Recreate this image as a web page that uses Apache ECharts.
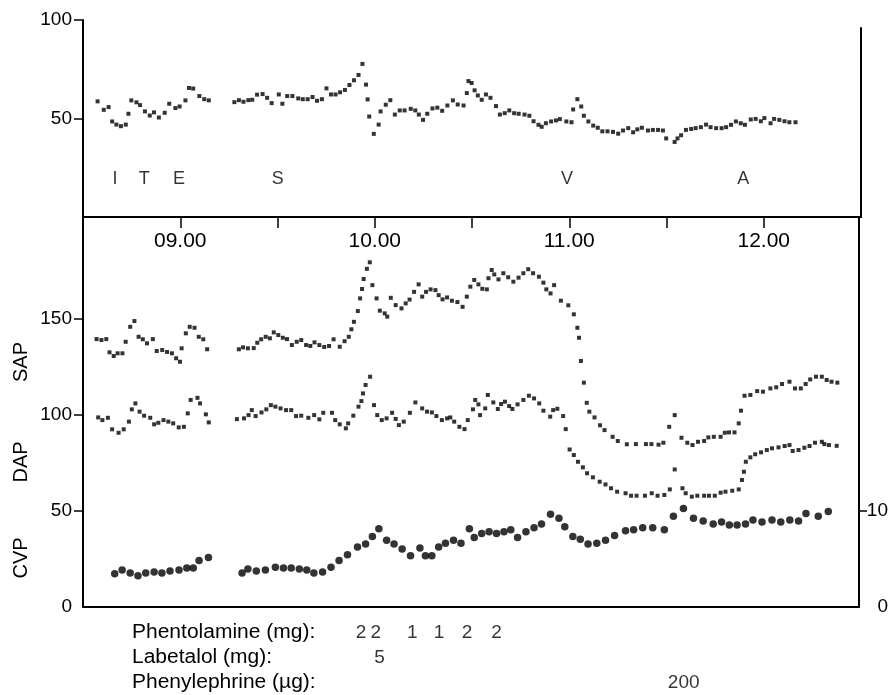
<!DOCTYPE html>
<html>
<head>
<meta charset="utf-8">
<script src="https://cdn.jsdelivr.net/npm/echarts@6/dist/echarts.min.js"></script>
<style>html,body{margin:0;padding:0;background:#fff}#c{width:891px;height:695px}</style>
</head>
<body>
<div id="c"></div>
<script>
// time in minutes after 08:30
const tickMinutes = [30, 60, 90, 120, 150, 180, 210];
const labelMinutes = [30, 90, 150, 210];
const hourLabels = ['09.00', '10.00', '11.00', '12.00'];

// upper panel (unlabelled trace, 0-100)
const hrData = [[4.5,58.7],[6.4,54.4],[7.9,55.8],[9.0,48.5],[10.3,46.9],[11.7,46.1],[13.2,46.9],[14.0,52.4],[14.9,59.2],[16.5,58.2],[17.6,56.8],[19.1,53.6],[20.6,51.5],[21.9,53.1],[23.4,50.5],[25.2,52.9],[26.6,57.5],[28.5,55.3],[29.8,56.1],[31.6,59.2],[32.7,65.5],[34.0,65.2],[35.9,61.4],[37.4,59.8],[38.8,59.2],
[46.7,58.3],[48.1,59.3],[49.5,58.5],[51.0,59.3],[52.2,59.5],[53.7,62.1],[55.4,62.4],[56.8,60.5],[58.2,57.8],[60.4,62.2],[61.5,57.5],[63.0,61.4],[64.6,61.4],[66.4,60.2],[67.8,59.8],[69.3,59.8],[70.8,60.9],[72.2,59.0],[73.7,59.8],[75.1,65.3],[76.5,62.2],[77.9,62.2],[79.3,63.3],[80.8,64.5],[82.2,67.0],[83.6,69.4],[85.0,72.1],[86.2,77.7],[87.3,67.2],[87.8,59.7],[88.3,51.0],[89.7,42.2],[91.2,46.9],[91.8,53.6],[93.4,57.0],[94.8,59.3],[96.2,52.0],[97.7,54.1],[99.2,54.1],[101.1,54.9],[102.5,54.1],[103.6,52.0],[104.9,49.3],[106.2,52.4],[107.8,55.1],[109.3,55.5],[110.8,53.9],[112.4,56.6],[114.1,59.2],[115.6,57.1],[117.4,56.6],[118.4,62.9],[118.9,69.0],[119.9,68.0],[120.8,64.3],[121.8,61.7],[123.0,59.5],[124.3,62.2],[125.7,60.5],[127.4,56.3],[128.6,52.0],[130.1,52.7],[131.5,54.1],[133.0,52.7],[134.4,52.4],[136.2,52.0],[137.7,51.4],[139.0,48.6],[140.5,46.8],[141.5,45.8],[142.8,47.6],[144.4,48.5],[145.9,49.0],[147.1,49.7],[149.1,48.5],[150.7,48.1],[151.2,54.6],[152.5,59.8],[153.7,56.1],[154.5,51.4],[155.9,48.5],[157.4,46.4],[158.8,45.3],[160.2,43.5],[161.8,43.5],[163.5,43.2],[165.1,42.3],[166.6,43.9],[168.2,45.1],[169.7,43.0],[171.0,44.5],[172.4,45.3],[174.3,43.9],[175.8,44.2],[177.4,44.2],[178.9,43.9],[179.9,39.9],[182.5,38.1],[183.4,39.9],[184.5,41.5],[186.0,44.2],[187.6,44.7],[189.0,45.1],[190.6,45.6],[192.2,46.9],[193.6,45.6],[195.3,45.1],[197.0,45.1],[198.4,45.6],[199.9,46.8],[201.4,48.5],[202.9,47.6],[204.2,46.8],[206.0,49.5],[207.5,49.8],[209.1,48.6],[210.2,50.2],[212.1,47.6],[213.2,49.8],[214.8,49.3],[216.4,48.6],[217.9,48.1],[219.8,48.1]];

const eventNames = ['I', 'T', 'E', 'S', 'V', 'A'];
const eventTimes = [9.9, 18.9, 29.6, 60.1, 149.3, 203.7];
const eventLevel = 19.4;

// lower panel: SAP, DAP (mmHg, left axis), CVP (mmHg, right axis)
const sapData = [[4.2,139.3],[5.7,138.8],[7.2,139.3],[8.2,132.4],[9.5,130.5],[10.7,131.9],[12.2,131.9],[13.2,137.9],[14.6,145.7],[15.9,148.7],[17.2,140.5],[18.5,139.2],[19.8,137.1],[21.6,139.3],[22.8,133.1],[24.5,133.6],[26.0,132.6],[27.5,131.9],[28.8,129.3],[30.0,127.5],[30.5,134.5],[31.8,142.3],[33.0,145.7],[34.5,145.2],[35.8,140.5],[37.2,139.2],[38.4,134.0],
[48.2,134.0],[49.5,135.0],[51.0,134.5],[52.8,134.6],[53.9,137.4],[55.1,139.2],[56.5,140.5],[57.8,139.7],[59.0,142.8],[60.4,141.4],[61.8,140.0],[63.1,139.3],[64.6,136.2],[66.1,137.9],[67.5,138.8],[69.0,136.2],[70.3,135.7],[71.6,137.6],[73.1,136.2],[74.6,135.2],[76.1,135.7],[77.5,139.2],[79.4,135.3],[80.9,138.2],[82.2,140.5],[83.0,144.4],[83.8,148.3],[85.0,153.9],[85.7,160.5],[86.3,165.4],[86.8,170.6],[87.8,175.9],[88.7,179.3],[89.5,167.4],[90.8,160.5],[91.8,154.1],[93.3,152.7],[94.1,151.0],[95.2,160.8],[96.7,157.0],[98.5,155.3],[99.8,157.9],[101.0,159.9],[102.4,163.9],[103.8,167.8],[104.9,161.4],[106.1,163.9],[107.5,165.2],[109.0,164.8],[110.0,162.2],[111.2,160.0],[112.6,161.0],[114.1,159.3],[115.8,158.6],[117.4,156.1],[118.7,161.4],[119.8,166.6],[121.0,170.1],[122.3,167.8],[123.5,165.5],[124.9,165.2],[125.4,171.0],[126.4,175.3],[127.2,173.0],[128.5,170.4],[130.0,173.6],[131.5,171.5],[133.1,169.2],[134.7,171.3],[136.2,173.6],[137.7,175.7],[139.2,173.6],[141.0,171.8],[142.4,168.7],[143.3,165.2],[144.6,163.1],[145.7,167.4],[147.8,159.3],[150.1,156.9],[151.8,152.2],[152.9,145.2],[153.4,140.0],[154.0,127.9],[154.9,116.6],[155.8,106.1],[156.6,101.5],[158.2,98.5],[159.9,94.4],[161.3,91.9],[163.8,88.4],[165.4,86.2],[168.2,84.5],[171.0,84.6],[174.1,84.6],[175.8,84.6],[178.0,84.3],[179.5,85.3],[181.3,93.6],[183.0,99.7],[185.1,87.9],[186.9,85.3],[188.5,84.1],[190.2,85.8],[192.1,86.2],[193.4,88.1],[195.1,88.4],[197.2,88.4],[198.5,90.5],[199.8,90.7],[201.5,90.7],[202.8,95.4],[203.5,102.0],[204.6,109.8],[206.4,110.2],[208.5,112.2],[210.3,111.9],[212.6,113.6],[214.4,114.2],[216.2,115.9],[218.5,117.1],[220.2,113.6],[222.0,113.6],[223.5,115.9],[224.9,118.3],[226.7,119.7],[228.5,119.7],[230.0,118.0],[231.5,117.1],[233.3,116.6]];

const dapData = [[4.7,98.5],[6.0,97.1],[7.7,98.3],[9.0,92.3],[11.0,90.5],[12.6,92.3],[14.2,96.3],[15.1,102.7],[16.2,105.8],[17.5,101.5],[18.9,99.4],[20.8,98.3],[22.0,94.9],[23.3,95.7],[24.9,97.1],[26.4,96.3],[27.9,95.4],[29.6,93.3],[31.2,93.6],[32.4,100.6],[33.3,107.6],[35.4,108.7],[36.2,105.8],[38.0,100.1],[38.9,95.9],
[47.6,97.6],[49.8,98.0],[51.2,99.7],[52.2,102.3],[53.4,99.2],[55.2,101.1],[56.7,102.7],[58.1,104.9],[59.5,104.1],[61.1,103.2],[62.8,102.3],[64.4,102.3],[65.9,99.2],[67.5,99.4],[69.7,98.3],[71.5,99.7],[73.1,97.5],[74.3,100.9],[77.0,100.9],[78.0,97.1],[79.4,94.9],[81.3,92.8],[82.0,95.4],[83.6,99.4],[85.2,104.1],[86.1,107.0],[86.6,111.0],[87.4,115.4],[88.8,119.7],[90.0,104.9],[91.0,99.7],[92.4,97.1],[93.9,98.0],[95.6,100.9],[96.7,97.7],[97.7,94.5],[99.2,96.3],[101.1,100.9],[102.8,106.3],[104.9,103.2],[106.4,101.5],[107.9,101.1],[109.3,99.2],[111.0,97.1],[112.6,98.0],[113.6,98.5],[114.8,96.3],[116.4,93.6],[118.0,92.4],[119.0,97.1],[120.6,102.7],[121.3,107.6],[122.3,105.3],[122.8,99.7],[124.4,103.2],[125.2,110.2],[126.9,106.3],[128.3,102.9],[129.3,105.5],[130.5,106.7],[131.8,104.4],[132.8,102.9],[134.4,105.3],[136.2,107.6],[137.9,109.8],[139.5,108.4],[141.1,105.8],[142.4,102.0],[144.5,98.9],[145.4,102.3],[146.7,103.0],[148.5,99.2],[149.3,92.4],[150.5,81.8],[151.8,78.9],[153.1,75.4],[154.6,72.5],[155.9,69.4],[157.7,67.3],[159.8,65.0],[161.6,63.6],[163.3,61.6],[165.2,59.8],[167.8,59.0],[169.5,57.7],[171.2,57.7],[173.8,57.7],[175.9,59.0],[177.7,57.7],[179.8,58.1],[181.5,61.0],[183.0,71.4],[185.4,61.6],[186.4,59.0],[188.3,57.2],[190.0,57.7],[192.1,57.7],[193.6,57.7],[195.4,57.7],[197.2,59.3],[198.7,59.8],[200.8,60.3],[202.8,61.0],[203.8,65.9],[204.4,70.2],[205.0,75.4],[206.4,77.7],[207.9,79.3],[209.7,80.3],[211.5,81.5],[213.1,82.4],[215.1,82.9],[217.0,83.6],[218.5,84.1],[219.5,81.0],[221.3,81.5],[223.1,82.7],[224.7,83.6],[226.4,85.3],[228.5,85.8],[229.3,84.6],[230.7,84.1],[233.1,83.7]];

const cvpData = [[9.8,3.4],[12.1,3.8],[14.6,3.5],[17.0,3.2],[19.4,3.5],[22.0,3.6],[24.4,3.5],[26.9,3.7],[29.7,3.8],[32.1,4.0],[34.1,4.0],[35.9,4.8],[38.8,5.1],
[49.2,3.5],[51.0,3.9],[53.6,3.7],[56.4,3.8],[59.5,4.1],[62.0,4.0],[64.4,4.0],[66.9,3.9],[69.2,3.8],[71.4,3.5],[74.1,3.6],[76.7,4.1],[79.2,4.8],[81.8,5.4],[84.9,6.2],[87.4,6.5],[89.5,7.3],[91.5,8.1],[93.9,6.9],[96.2,6.5],[98.7,6.0],[101.3,5.3],[104.2,6.1],[105.9,5.3],[107.9,5.3],[110.0,6.2],[112.1,6.6],[114.6,6.9],[116.9,6.6],[119.5,8.1],[121.0,7.2],[123.3,7.6],[125.6,7.8],[127.9,7.6],[130.2,7.8],[132.3,8.0],[134.4,7.2],[137.0,7.8],[139.5,8.2],[141.8,8.6],[144.6,9.6],[147.2,9.2],[149.0,8.3],[151.5,7.3],[153.8,7.0],[156.2,6.5],[158.9,6.6],[161.6,6.9],[164.4,7.4],[167.8,7.9],[170.3,8.0],[173.1,8.2],[176.2,8.2],[179.8,8.0],[182.6,9.4],[185.7,10.2],[188.8,9.2],[191.8,8.9],[194.9,8.6],[197.5,8.8],[199.9,8.5],[202.3,8.5],[204.9,8.6],[207.2,9.0],[210.0,8.8],[213.1,9.0],[215.8,8.8],[218.6,9.0],[221.3,8.9],[223.6,9.7],[227.4,9.4],[230.5,9.9]];

// drug administrations
const drugRows = ['Phentolamine (mg):', 'Labetalol (mg):', 'Phenylephrine (\u00b5g):'];
const phentolamineTimes = [85.8, 90.3, 101.6, 109.8, 118.5, 127.6];
const phentolamineDoses = [2, 2, 1, 1, 2, 2];
const labetalolTimes = [91.5];
const labetalolDoses = [5];
const phenylephrineTimes = [185.3];
const phenylephrineDoses = [200];

const leftTicksTop = [50, 100];
const leftTicksBottom = [50, 100, 150];
const leftLabelsBottom = [0, 50, 100, 150];
const rightTicks = [10];
const rightLabels = [0, 10];

const FONT = '"Liberation Sans", Arial, sans-serif';
const INK = '#000';
const lowerMax = 202.9;

const doseData = [];
phentolamineTimes.forEach((t, i) => doseData.push([t, 0, String(phentolamineDoses[i])]));
labetalolTimes.forEach((t, i) => doseData.push([t, 1, String(labetalolDoses[i])]));
phenylephrineTimes.forEach((t, i) => doseData.push([t, 2, String(phenylephrineDoses[i])]));

const axisLine = {show: true, onZero: false, lineStyle: {color: INK, width: 2}};
const noSplit = {show: false};

const chart = echarts.init(document.getElementById('c'), null, {renderer: 'canvas'});
chart.setOption({
  animation: false,
  backgroundColor: '#fff',
  textStyle: {fontFamily: FONT, color: INK},
  grid: [
    {left: 83, right: 30, top: 20, height: 197},
    {left: 83, right: 30, top: 217, height: 389.5},
    {left: 83, right: 30, top: 620, height: 75},
    {left: 83, right: 30, top: 28, height: 189}
  ],
  xAxis: [
    {gridIndex: 0, type: 'value', min: 0, max: 240, axisLine: axisLine, splitLine: noSplit,
     axisTick: {show: true, length: 11, customValues: tickMinutes, lineStyle: {color: INK, width: 1.5}},
     axisLabel: {customValues: labelMinutes, fontSize: 21, margin: 14, color: INK, fontFamily: FONT,
       formatter: v => { const i = labelMinutes.indexOf(Math.round(v)); return i >= 0 ? hourLabels[i] : ''; }}},
    {gridIndex: 1, type: 'value', min: 0, max: 240, axisLine: axisLine, splitLine: noSplit,
     axisTick: {show: false}, axisLabel: {show: false}},
    {gridIndex: 2, type: 'value', min: 0, max: 240, show: false},
    {gridIndex: 3, type: 'value', min: 0, max: 240, show: false}
  ],
  yAxis: [
    {gridIndex: 0, type: 'value', min: 0, max: 100, axisLine: axisLine, splitLine: noSplit,
     axisTick: {show: true, length: 9, customValues: leftTicksTop, lineStyle: {color: INK, width: 1.5}},
     axisLabel: {customValues: leftTicksTop, fontSize: 19, margin: 11, color: INK, fontFamily: FONT}},
    {gridIndex: 3, type: 'value', position: 'right', min: 0, max: 100, axisLine: axisLine, splitLine: noSplit,
     axisTick: {show: false}, axisLabel: {show: false}},
    {gridIndex: 1, type: 'value', min: 0, max: lowerMax, axisLine: axisLine, splitLine: noSplit,
     axisTick: {show: true, length: 9, customValues: leftTicksBottom, lineStyle: {color: INK, width: 1.5}},
     axisLabel: {customValues: leftLabelsBottom, fontSize: 19, margin: 11, color: INK, fontFamily: FONT}},
    {gridIndex: 1, type: 'value', position: 'right', min: 0, max: lowerMax / 5, axisLine: axisLine, splitLine: noSplit,
     axisTick: {show: true, length: 8, customValues: rightTicks, lineStyle: {color: INK, width: 1.5}},
     axisLabel: {customValues: rightLabels, fontSize: 19, margin: 29, align: 'right', color: INK, fontFamily: FONT}},
    {gridIndex: 2, type: 'category', inverse: true, data: drugRows, show: false}
  ],
  series: [
    {type: 'scatter', xAxisIndex: 0, yAxisIndex: 0, data: hrData, symbol: 'rect', symbolSize: 4,
     itemStyle: {color: INK}, silent: true},
    {type: 'scatter', xAxisIndex: 0, yAxisIndex: 0, symbolSize: 1, itemStyle: {color: 'transparent'},
     data: eventTimes.map((t, i) => [t, eventLevel, eventNames[i]]),
     label: {show: true, position: 'inside', formatter: p => p.data[2], fontSize: 18, color: INK, fontFamily: FONT}},
    {type: 'scatter', xAxisIndex: 1, yAxisIndex: 2, data: sapData, symbol: 'rect', symbolSize: 4,
     itemStyle: {color: INK}, silent: true},
    {type: 'scatter', xAxisIndex: 1, yAxisIndex: 2, data: dapData, symbol: 'rect', symbolSize: 4,
     itemStyle: {color: INK}, silent: true},
    {type: 'scatter', xAxisIndex: 1, yAxisIndex: 3, data: cvpData, symbol: 'circle', symbolSize: 7.5,
     itemStyle: {color: INK}, silent: true},
    {type: 'scatter', xAxisIndex: 2, yAxisIndex: 4, symbolSize: 1, itemStyle: {color: 'transparent'},
     data: doseData,
     label: {show: true, position: 'inside', formatter: p => p.data[2], fontSize: 19, color: INK, fontFamily: FONT}}
  ],
  graphic: [
    {type: 'text', x: 21, y: 362, rotation: Math.PI / 2, style: {text: 'SAP', fontSize: 20, fontFamily: FONT, fill: INK, align: 'center', verticalAlign: 'middle'}},
    {type: 'text', x: 21, y: 462, rotation: Math.PI / 2, style: {text: 'DAP', fontSize: 20, fontFamily: FONT, fill: INK, align: 'center', verticalAlign: 'middle'}},
    {type: 'text', x: 21, y: 558, rotation: Math.PI / 2, style: {text: 'CVP', fontSize: 20, fontFamily: FONT, fill: INK, align: 'center', verticalAlign: 'middle'}},
    {type: 'text', x: 132, y: 632.5, scaleX: 1.05, style: {text: drugRows[0], fontSize: 20, fontFamily: FONT, fill: INK, align: 'left', verticalAlign: 'middle'}},
    {type: 'text', x: 132, y: 657.5, scaleX: 1.05, style: {text: drugRows[1], fontSize: 20, fontFamily: FONT, fill: INK, align: 'left', verticalAlign: 'middle'}},
    {type: 'text', x: 132, y: 682.5, scaleX: 1.05, style: {text: drugRows[2], fontSize: 20, fontFamily: FONT, fill: INK, align: 'left', verticalAlign: 'middle'}}
  ]
});
</script>
</body>
</html>
